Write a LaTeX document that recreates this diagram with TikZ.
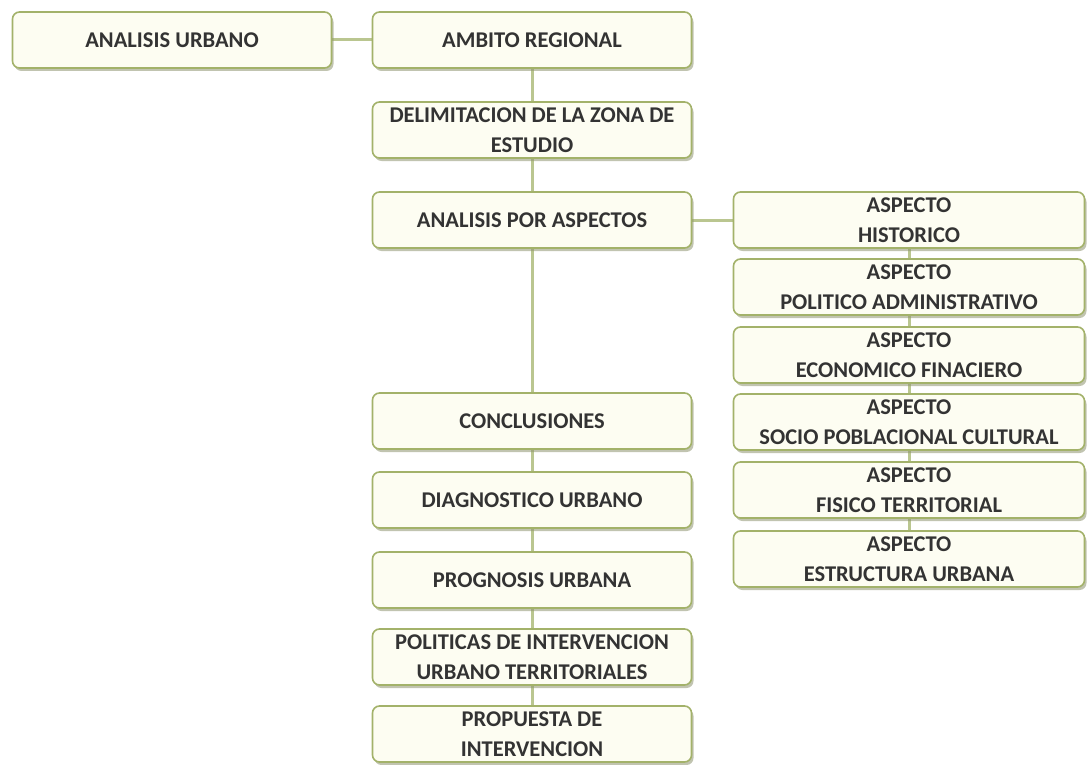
\documentclass[tikz,border=0pt]{standalone}
\usepackage{fontspec}
\setmainfont{Carlito}
\usetikzlibrary{shadows,backgrounds}
\definecolor{boxline}{HTML}{A3B26A}
\definecolor{boxfill}{HTML}{FDFDF2}
\definecolor{linkline}{HTML}{BAC690}
\definecolor{boxshadow}{HTML}{8E9470}
\tikzset{
  box/.style={draw=boxline, line width=1.6pt, rounded corners=7pt, fill=boxfill,
    minimum width=319pt, minimum height=56pt, inner sep=0pt, align=center,
    font=\fontsize{22.5}{29.5}\selectfont\bfseries, text=black!80,
    drop shadow={shadow xshift=2pt, shadow yshift=-3pt, fill=boxshadow, opacity=0.55}},
  aspectbox/.style={box, minimum width=351pt},
  link/.style={draw=linkline, line width=3pt}
}
\begin{document}
\begin{tikzpicture}[x=1pt, y=-1pt]
  \useasboundingbox (0,0) rectangle (1089,765);
  % main column
  \node[box] (urbano) at (172, 40) {ANALISIS URBANO};
  \node[box] (regional) at (532, 40) {AMBITO REGIONAL};
  \node[box] (delimit) at (532, 130) {DELIMITACION DE LA ZONA DE\\ESTUDIO};
  \node[box] (aspectos) at (532, 220) {ANALISIS POR ASPECTOS};
  \node[box] (conclus) at (532, 421) {CONCLUSIONES};
  \node[box] (diagnos) at (532, 500) {DIAGNOSTICO URBANO};
  \node[box] (prognos) at (532, 580) {PROGNOSIS URBANA};
  \node[box] (politicas) at (532, 657) {POLITICAS DE INTERVENCION\\URBANO TERRITORIALES};
  \node[box] (propuesta) at (532, 734) {PROPUESTA DE\\INTERVENCION};
  % aspects
  \node[aspectbox] (historico) at (909, 220) {ASPECTO\\HISTORICO};
  \node[aspectbox] (politico) at (909, 287) {ASPECTO\\POLITICO ADMINISTRATIVO};
  \node[aspectbox] (economico) at (909, 355) {ASPECTO\\ECONOMICO FINACIERO};
  \node[aspectbox] (socio) at (909, 422) {ASPECTO\\SOCIO POBLACIONAL CULTURAL};
  \node[aspectbox] (fisico) at (909, 490) {ASPECTO\\FISICO TERRITORIAL};
  \node[aspectbox] (estructura) at (909, 559) {ASPECTO\\ESTRUCTURA URBANA};
  \begin{scope}[on background layer]
    \draw[link] (urbano) -- (regional);
    \draw[link] (regional) -- (delimit) -- (aspectos) -- (conclus) -- (diagnos)
      -- (prognos) -- (politicas) -- (propuesta);
    \draw[link] (aspectos) -- (historico);
    \draw[link] (historico) -- (politico) -- (economico) -- (socio) -- (fisico) -- (estructura);
  \end{scope}
\end{tikzpicture}
\end{document}
